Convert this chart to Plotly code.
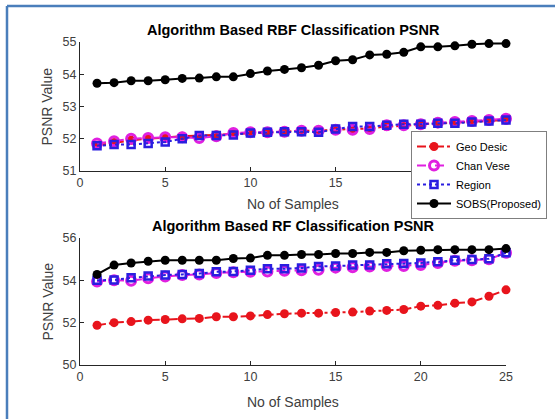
import plotly.graph_objects as go

samples = list(range(1, 26))

# Top plot: RBF classification
rbf_geo = [51.80, 51.88, 51.95, 52.00, 52.05, 52.08, 52.10, 52.12, 52.15, 52.18, 52.20, 52.22, 52.25,
           52.25, 52.28, 52.30, 52.32, 52.38, 52.40, 52.45, 52.48, 52.50, 52.52, 52.55, 52.58]
rbf_chan = [51.85, 51.92, 52.00, 52.02, 52.05, 52.05, 52.02, 52.08, 52.18, 52.20, 52.20, 52.22, 52.25,
            52.25, 52.28, 52.28, 52.30, 52.42, 52.42, 52.45, 52.50, 52.52, 52.55, 52.58, 52.62]
rbf_region = [51.78, 51.82, 51.82, 51.85, 51.90, 52.00, 52.10, 52.10, 52.12, 52.18, 52.20, 52.22, 52.22,
              52.20, 52.30, 52.38, 52.38, 52.42, 52.45, 52.45, 52.48, 52.48, 52.52, 52.55, 52.58]
rbf_sobs = [53.72, 53.74, 53.80, 53.80, 53.83, 53.87, 53.88, 53.92, 53.92, 54.02, 54.10, 54.15, 54.20,
            54.28, 54.42, 54.45, 54.60, 54.62, 54.68, 54.85, 54.85, 54.88, 54.93, 54.95, 54.95]

# Bottom plot: RF classification
rf_geo = [51.88, 52.00, 52.05, 52.12, 52.15, 52.18, 52.20, 52.28, 52.28, 52.32, 52.38, 52.42, 52.45,
          52.45, 52.48, 52.50, 52.55, 52.58, 52.62, 52.78, 52.82, 52.92, 52.98, 53.25, 53.55]
rf_chan = [53.95, 54.00, 53.98, 54.10, 54.18, 54.25, 54.28, 54.35, 54.38, 54.40, 54.42, 54.45, 54.48,
           54.50, 54.60, 54.62, 54.65, 54.68, 54.68, 54.72, 54.82, 54.92, 54.95, 55.00, 55.30]
rf_region = [54.00, 54.02, 54.12, 54.20, 54.25, 54.28, 54.32, 54.40, 54.42, 54.48, 54.55, 54.55, 54.58,
             54.65, 54.68, 54.72, 54.72, 54.78, 54.80, 54.82, 54.88, 54.95, 54.98, 55.02, 55.30]
rf_sobs = [54.28, 54.72, 54.82, 54.90, 54.95, 54.95, 54.95, 54.95, 55.03, 55.05, 55.18, 55.18, 55.22,
           55.22, 55.27, 55.27, 55.32, 55.32, 55.40, 55.42, 55.45, 55.45, 55.45, 55.45, 55.50]

series_names = ["Geo Desic", "Chan Vese", "Region", "SOBS(Proposed)"]
x_ticks = [0, 5, 10, 15, 20, 25]
top_yticks = [51, 52, 53, 54, 55]
bot_yticks = [50, 52, 54, 56]
titles = ["Algorithm Based RBF Classification PSNR", "Algorithm Based RF Classification PSNR"]

W, H = 555, 419
FONT = "Liberation Sans, Arial, sans-serif"

styles = [
    dict(line=dict(color="#e8141c", width=2, dash="dashdot"),
         marker=dict(symbol="circle", size=9, color="#e8141c")),
    dict(line=dict(color="#e020e0", width=2, dash="dash"),
         marker=dict(symbol="circle-open", size=9, color="#e020e0", line=dict(width=3))),
    dict(line=dict(color="#2a1ee0", width=2, dash="dot"),
         marker=dict(symbol="square-open", size=7, color="#2a1ee0", line=dict(width=2.5))),
    dict(line=dict(color="#000000", width=2, dash="solid"),
         marker=dict(symbol="circle", size=9, color="#000000")),
]

fig = go.Figure()
top_data = [rbf_geo, rbf_chan, rbf_region, rbf_sobs]
bot_data = [rf_geo, rf_chan, rf_region, rf_sobs]
for i, (name, ys) in enumerate(zip(series_names, top_data)):
    fig.add_trace(go.Scatter(x=samples, y=ys, mode="lines+markers", name=name,
                             xaxis="x", yaxis="y", cliponaxis=False, showlegend=True, **styles[i]))
for i, (name, ys) in enumerate(zip(series_names, bot_data)):
    fig.add_trace(go.Scatter(x=samples, y=ys, mode="lines+markers", name=name,
                             xaxis="x2", yaxis="y2", cliponaxis=False, showlegend=False, **styles[i]))

x0, x1 = 80 / W, 506 / W
top_dom = [1 - 171 / H, 1 - 42 / H]
bot_dom = [1 - 365 / H, 1 - 238 / H]

axis_common = dict(showline=True, linecolor="#262626", linewidth=1, ticks="inside", ticklen=4,
                   tickcolor="#262626", showgrid=False, zeroline=False, mirror=False,
                   tickfont=dict(family=FONT, size=12.5, color="#404040"), automargin=False)

fig.update_layout(
    width=W, height=H,
    margin=dict(l=0, r=0, t=0, b=0),
    paper_bgcolor="white", plot_bgcolor="white",
    font=dict(family=FONT, color="#262626"),
    xaxis=dict(domain=[x0, x1], range=[0, 25], tickvals=x_ticks, anchor="y", **axis_common),
    yaxis=dict(domain=top_dom, range=[51, 55], tickvals=top_yticks, anchor="x", **axis_common),
    xaxis2=dict(domain=[x0, x1], range=[0, 25], tickvals=x_ticks, anchor="y2", **axis_common),
    yaxis2=dict(domain=bot_dom, range=[50, 56], tickvals=bot_yticks, anchor="x2", **axis_common),
    legend=dict(x=411 / W, y=1 - 131 / H, xanchor="left", yanchor="top",
                bgcolor="white", bordercolor="#7f7f7f", borderwidth=1,
                font=dict(family=FONT, size=11, color="#000000"),
                tracegroupgap=0, itemwidth=34),
    showlegend=True,
)

cx = (x0 + x1) / 2
ann = [
    dict(text="<b>" + titles[0] + "</b>", x=cx, y=1 - 30 / H, font=dict(size=14.5, color="#000000")),
    dict(text="<b>" + titles[1] + "</b>", x=cx, y=1 - 226 / H, font=dict(size=14.5, color="#000000")),
    dict(text="No of Samples", x=cx, y=1 - 204 / H, font=dict(size=14, color="#404040")),
    dict(text="No of Samples", x=cx, y=1 - 402 / H, font=dict(size=14, color="#404040")),
    dict(text="PSNR Value", x=47 / W, y=(top_dom[0] + top_dom[1]) / 2, textangle=-90,
         font=dict(size=14, color="#404040")),
    dict(text="PSNR Value", x=47 / W, y=(bot_dom[0] + bot_dom[1]) / 2, textangle=-90,
         font=dict(size=14, color="#404040")),
]
for a in ann:
    a.update(xref="paper", yref="paper", showarrow=False, xanchor="center", yanchor="middle")
    a["font"]["family"] = FONT
fig.update_layout(annotations=ann)

# blue outer frame (left and top edges)
fig.add_shape(type="line", xref="paper", yref="paper", x0=7 / W, x1=7 / W, y0=0, y1=1 - 6 / H,
              line=dict(color="#4a7ebb", width=2.5))
fig.add_shape(type="line", xref="paper", yref="paper", x0=7 / W, x1=1, y0=1 - 6 / H, y1=1 - 6 / H,
              line=dict(color="#4a7ebb", width=2.5))

fig.write_html("out.html", config={"displayModeBar": False},
               post_script="document.body.style.margin='0';document.body.style.overflow='hidden';")
